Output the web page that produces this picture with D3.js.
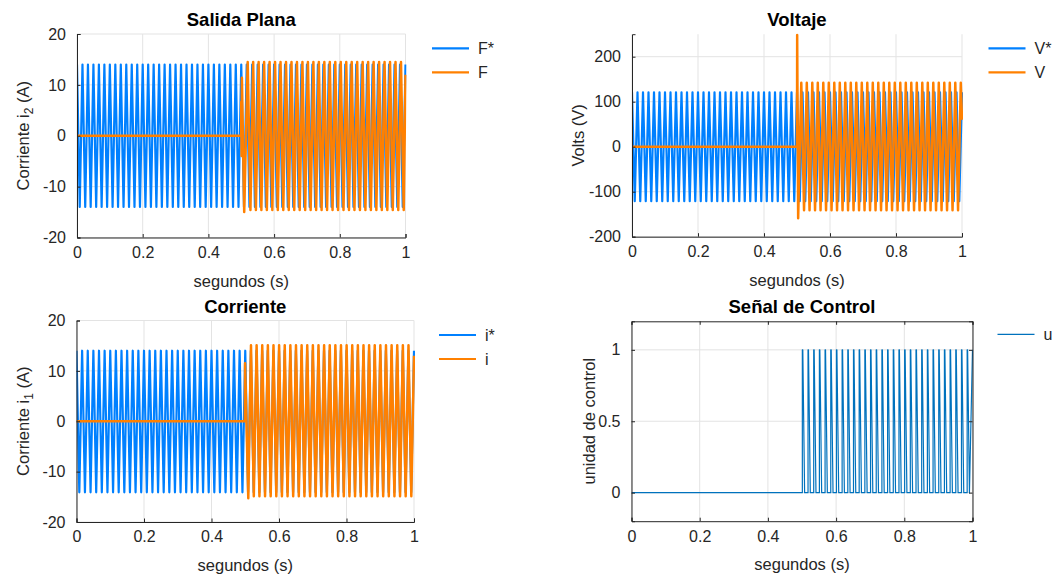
<!DOCTYPE html>
<html>
<head>
<meta charset="utf-8">
<script src="https://cdn.jsdelivr.net/npm/d3@7"></script>
<style>
  body { margin: 0; background: #fff; }
  svg text { font-family: "Liberation Sans", Arial, Helvetica, sans-serif; fill: #262626; }
</style>
</head>
<body>
<svg id="fig" width="1060" height="577"></svg>
<script>
'use strict';

// ---- data ----
var xTicks = [0, 0.2, 0.4, 0.6, 0.8, 1];
var yTicksI = [-20, -10, 0, 10, 20];
var yTicksV = [-200, -100, 0, 100, 200];
var yTicksU = [0, 0.5, 1];

var freq = 60;        // Hz, both reference and measured
var tOn = 0.5;        // controller switched on

// references (start on the top peak at t = 0)
var fStarPeaks = [14, -14];
var vStarPeaks = [121, -121];
var iStarPeaks = [14, -14.1];

// measured: transient points [t, value] after switch-on, then steady peaks
var fTransient = [[0.5, 0], [0.5, 6.7], [0.501, -4], [0.502, 11.4], [0.509, -15]];
var fPeaks = [14.5, -14.6];
var fSteadyFrom = 0.5196;
var fEnd = 12;

var vTransient = [[0.5, 0], [0.5005, 248], [0.5035, -159]];
var vPeaks = [142, -141];
var vSteadyFrom = 0.513;
var vEnd = 60;

var iTransient = [[0.499, 0], [0.4995, 11.5], [0.509, -15.3]];
var iPeaks = [15.1, -14.9];
var iSteadyFrom = 0.517;
var iEnd = 13;

// control signal: one pulse per period after switch-on
var uLevels = [0, 1];
var uStart = 0.501;

var legendF = ["F*", "F"];
var legendV = ["V*", "V"];
var legendI = ["i*", "i"];
var legendU = ["u"];

var blue = "#0080ff", orange = "#ff8000", uBlue = "#0072bd";
var halfT = 1 / (2 * freq);

// alternate between the two peak values every half period
function wave(t0, pair, t1) {
  var pts = [];
  for (var k = 0; t0 + k * halfT <= t1 + 1e-9; k++) {
    pts.push([t0 + k * halfT, pair[k % 2]]);
  }
  return pts;
}

function measured(trans, pair, from, endVal) {
  return [[0, 0]].concat(trans, wave(from, pair, 1), [[1, endVal]]);
}

function pulses() {
  var pts = [[0, uLevels[0]]];
  var T = 2 * halfT;
  for (var k = 0; uStart + k * T <= 1; k++) {
    var t = uStart + k * T;
    pts.push([t, uLevels[0]], [t, uLevels[1]], [t + 0.08 * T, uLevels[1]]);
    if (t + 0.4 * T <= 1) pts.push([t + 0.4 * T, uLevels[0]]);
  }
  pts.push([1, uLevels[1]]);
  return pts;
}

var svg = d3.select("#fig");
var clipN = 0;

function panel(o) {
  var x = d3.scaleLinear().domain([0, 1]).range([o.left, o.right]);
  var y = d3.scaleLinear().domain(o.ydom).range([o.bottom, o.top]);
  var g = svg.append("g");

  // grid
  g.append("g").selectAll("line").data(xTicks).enter().append("line")
    .attr("x1", x).attr("x2", x).attr("y1", o.top).attr("y2", o.bottom)
    .attr("stroke", "#e3e3e3").attr("stroke-width", 1);
  g.append("g").selectAll("line").data(o.yticks).enter().append("line")
    .attr("y1", y).attr("y2", y).attr("x1", o.left).attr("x2", o.right)
    .attr("stroke", "#e3e3e3").attr("stroke-width", 1);

  var id = "clip" + (clipN++);
  svg.append("clipPath").attr("id", id).append("rect")
    .attr("x", o.left).attr("y", o.top - 1)
    .attr("width", o.right - o.left + 1).attr("height", o.bottom - o.top + 2);

  var line = d3.line().x(function (d) { return x(d[0]); }).y(function (d) { return y(d[1]); });
  var plot = g.append("g").attr("clip-path", "url(#" + id + ")");
  o.series.forEach(function (s) {
    plot.append("path").attr("d", line(s.pts))
      .attr("fill", "none").attr("stroke", s.color)
      .attr("stroke-width", s.width).attr("stroke-linejoin", "round");
  });

  // axes (ticks inward like MATLAB)
  var ax = g.append("g").attr("transform", "translate(0," + o.bottom + ")")
    .call(d3.axisBottom(x).tickValues(xTicks).tickSize(-3.5).tickPadding(9)
      .tickFormat(function (d) { return String(d); }));
  var ay = g.append("g").attr("transform", "translate(" + o.left + ",0)")
    .call(d3.axisLeft(y).tickValues(o.yticks).tickSize(-3.5).tickPadding(11)
      .tickFormat(function (d) { return String(d); }));
  [ax, ay].forEach(function (a) {
    a.select(".domain").attr("stroke", "#262626");
    a.selectAll(".tick line").attr("stroke", "#262626");
    a.selectAll("text").attr("font-size", 16).attr("fill", "#262626")
      .style("font-family", '"Liberation Sans", Arial, sans-serif');
  });
  ax.selectAll("text").attr("dy", "0.71em");

  if (o.box) {
    g.append("g").attr("transform", "translate(0," + o.top + ")")
      .call(d3.axisTop(x).tickValues(xTicks).tickSize(-3.5).tickFormat(""))
      .selectAll("path,line").attr("stroke", "#262626");
    g.append("g").attr("transform", "translate(" + o.right + ",0)")
      .call(d3.axisRight(y).tickValues(o.yticks).tickSize(-3.5).tickFormat(""))
      .selectAll("path,line").attr("stroke", "#262626");
  }

  // labels
  g.append("text").attr("x", (o.left + o.right) / 2).attr("y", o.top - 8)
    .attr("text-anchor", "middle").attr("font-size", 18.5).attr("font-weight", "bold")
    .style("fill", "#000").text(o.title);
  g.append("text").attr("x", (o.left + o.right) / 2).attr("y", o.bottom + 49)
    .attr("text-anchor", "middle").attr("font-size", 16.5).text("segundos (s)");
  var yl = g.append("text")
    .attr("transform", "translate(" + o.ylabX + "," + (o.top + o.bottom) / 2 + ") rotate(-90)")
    .attr("text-anchor", "middle").attr("font-size", 16.5);
  if (o.sub) {
    yl.append("tspan").text(o.ylabel);
    yl.append("tspan").attr("dy", 4).attr("font-size", 12).text(o.sub);
    yl.append("tspan").attr("dy", -4).text(" (A)");
  } else {
    yl.text(o.ylabel);
  }

  // legend
  o.legend.forEach(function (name, i) {
    var ly = o.legY + i * 24;
    g.append("line").attr("x1", o.legX).attr("x2", o.legX + 37).attr("y1", ly).attr("y2", ly)
      .attr("stroke", o.series[i].color).attr("stroke-width", o.series[i].width < 1.5 ? 1.2 : 2.2);
    g.append("text").attr("x", o.legX + 46).attr("y", ly).attr("dy", "0.36em")
      .attr("font-size", 16).text(name);
  });
}

panel({
  left: 77, right: 405.5, top: 34, bottom: 237.5, ydom: [-20, 20], yticks: yTicksI,
  title: "Salida Plana", ylabel: "Corriente i", sub: "2", ylabX: 29,
  legend: legendF, legX: 432, legY: 48.3,
  series: [
    { pts: wave(0, fStarPeaks, 1), color: blue, width: 2.2 },
    { pts: measured(fTransient, fPeaks, fSteadyFrom, fEnd), color: orange, width: 2.5 }
  ]
});

panel({
  left: 632, right: 962, top: 34.2, bottom: 236.7, ydom: [-200, 250], yticks: yTicksV,
  title: "Voltaje", ylabel: "Volts (V)", ylabX: 584,
  legend: legendV, legX: 988.5, legY: 48.3,
  series: [
    { pts: wave(0, vStarPeaks, 1), color: blue, width: 2.2 },
    { pts: measured(vTransient, vPeaks, vSteadyFrom, vEnd), color: orange, width: 2.5 }
  ]
});

panel({
  left: 76.5, right: 414, top: 320.5, bottom: 522, ydom: [-20, 20], yticks: yTicksI,
  title: "Corriente", ylabel: "Corriente i", sub: "1", ylabX: 29,
  legend: legendI, legX: 439, legY: 335,
  series: [
    { pts: wave(0, iStarPeaks, 1), color: blue, width: 2.2 },
    { pts: measured(iTransient, iPeaks, iSteadyFrom, iEnd), color: orange, width: 2.5 }
  ]
});

panel({
  left: 631.5, right: 972.5, top: 321.3, bottom: 521.2, ydom: [-0.2, 1.2], yticks: yTicksU,
  title: "Señal de Control", ylabel: "unidad de control", ylabX: 595, box: true,
  legend: legendU, legX: 997.5, legY: 334.3,
  series: [
    { pts: pulses(), color: uBlue, width: 1.2 }
  ]
});
</script>
</body>
</html>
